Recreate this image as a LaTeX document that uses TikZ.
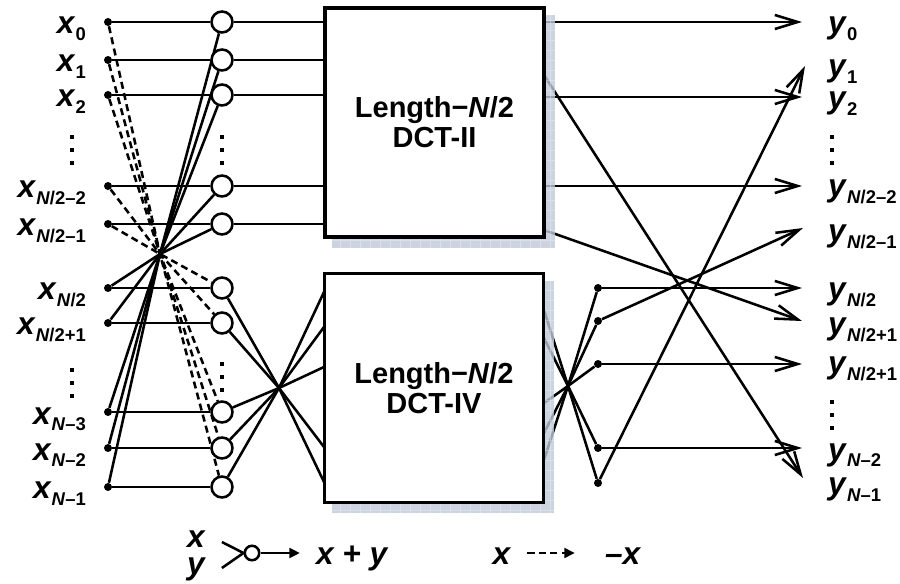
\documentclass[tikz,border=0pt]{standalone}
\usepackage{fontspec}
\setmainfont{Liberation Sans}
\usetikzlibrary{arrows.meta,calc}
\pgfdeclarelayer{shade}
\pgfdeclarelayer{front}
\pgfsetlayers{main,shade,front}
\definecolor{shadowgray}{RGB}{190,201,215}
\newcommand{\Nh}[1]{\textit{N}#1}
\newcommand{\sig}[2]{\textbf{\textit{#1}}\raisebox{-3.8pt}{\fontsize{10.5}{11}\selectfont\bfseries #2}}

\begin{document}
\begin{tikzpicture}[x=0.02cm,y=-0.02cm,
	wire/.style={line width=1.45pt},
	neg/.style={wire,dash pattern=on 4pt off 2.5pt},
	adder/.style={circle,draw,line width=1.45pt,fill=white,minimum size=0.42cm,inner sep=0pt},
	dot/.style={circle,fill,inner sep=0pt,minimum size=0.16cm},
	dct/.style={draw,fill=white,line width=1.8pt,minimum width=4.38cm,minimum height=4.58cm,inner sep=0pt,align=center,font=\fontsize{16.5}{17}\selectfont\bfseries},
	lbl/.style={font=\fontsize{18}{20}\selectfont,inner sep=1pt},
	outarrow/.style={wire,-{Straight Barb[length=13pt,width=8pt]}},
	]
	\useasboundingbox (0,0) rectangle (900,584);
	% blocks, inputs and adders
	\begin{pgfonlayer}{front}
		\node[dct] (dct2) at (434.5,122.5) {Length−\textit{N}/2\\DCT-II};
		\node[dct] (dct4) at (434,388) {Length−\textit{N}/2\\DCT-IV};
		\foreach \r [count=\i from 0] in {22,60,95,186,224,288,323,412,448,487} {
			\node[dot] (in\i) at (108,\r) {};
			\node[adder] (c\i) at (222,\r) {};
		}
	\end{pgfonlayer}
	\begin{pgfonlayer}{shade}
		\foreach \b in {dct2,dct4} {
			\fill[shadowgray,fill opacity=.8] ($(\b.north west)+(9,9)$) rectangle ($(\b.south east)+(9,9)$);
			\draw[white,opacity=.3,line width=.4pt,step=0.2cm] ($(\b.north west)+(9,9)$) grid ($(\b.south east)+(9,9)$);
		}
	\end{pgfonlayer}
	% labels
	\foreach \r/\s [count=\i from 0] in {22/0,60/1,95/2,186/\Nh{/2–2},224/\Nh{/2–1},288/\Nh{/2},323/\Nh{/2+1},412/\Nh{–3},448/\Nh{–2},487/\Nh{–1}}
		\node[lbl,anchor=base east] (lx\i) at (88,\r+12) {\sig{x}{\s}};
	\foreach \r/\s [count=\i from 0] in {22/0,65/1,97/2,185/\Nh{/2–2},230/\Nh{/2–1},288/\Nh{/2},323/\Nh{/2+1},362/\Nh{/2+1},448/\Nh{–2},483/\Nh{–1}}
		\node[lbl,anchor=base west] (ly\i) at (826,\r+12) {\sig{y}{\s}};
	\foreach \px/\py in {72/150,72/383,222/150,222/377,832/150,832/415}
		\foreach \k in {-1,0,1}
			\fill (\px-2.4,\py+\k*13-2.4) rectangle ++(4.8,4.8);
	% crossing points
	\coordinate (L) at (160,254);
	\coordinate (M) at (279,388);
	\coordinate (R) at (568,386);
	% input butterfly
	\foreach \i in {0,...,9}
		\draw[wire] (in\i) -- (c\i);
	\foreach \i [evaluate=\i as \j using int(9-\i)] in {5,...,9}
		\draw[wire] (in\i) -- (L) -- (c\j);
	\foreach \i [evaluate=\i as \j using int(9-\i)] in {0,...,4}
		\draw[neg] (in\i) -- (L) -- (c\j);
	\foreach \i in {0,...,4}
		\draw[wire] (c\i) -- (c\i -| dct2.west);
	\foreach \r [count=\i from 5] in {482,447,367,327,292} {
		\coordinate (v\i) at (324,\r);
		\draw[wire] (c\i) -- (M) -- (v\i);
	}
	% DCT-II outputs
	\foreach \r/\tx/\ty [count=\k] in {22/802/22,75/803/478,97/802/97,186/802/186,230/802/321} {
		\coordinate (u\k) at (544,\r);
		\coordinate (t\k) at (\tx,\ty);
		\draw[outarrow] (u\k) -- (t\k);
	}
	% DCT-IV outputs
	\foreach \r/\s [count=\k] in {310/483,338/448,403/364,433/321,460/288} {
		\coordinate (w\k) at (544,\r);
		\node[dot] (o\k) at (598,\s) {};
		\draw[wire] (w\k) -- (R) -- (o\k);
	}
	\foreach \k/\tx/\ty in {1/805/66,2/802/448,3/802/364,4/803/228,5/802/288} {
		\coordinate (s\k) at (\tx,\ty);
		\draw[outarrow] (o\k) -- (s\k);
	}
	% legend
	\node[lbl,align=center,font=\fontsize{18}{15}\selectfont\bfseries\itshape] (lgxy) at (196,556) {x\\y};
	\node[adder,minimum size=0.29cm] (lga) at (252,553) {};
	\node[lbl,anchor=base west] (lgs) at (314,564) {\textbf{\textit{x + y}}};
	\draw[wire] ($(lgxy.east)+(15,-14)$) -- (lga.west);
	\draw[wire] ($(lgxy.east)+(15,12)$) -- (lga.west);
	\draw[wire,-{Triangle[length=6pt,width=5.5pt]},shorten >=8pt] (lga) -- (lga -| lgs.west);
	\node[lbl,anchor=base] (lgn) at (502,564) {\textbf{\textit{x}}};
	\node[lbl,anchor=base west] (lgm) at (603,564) {\textbf{\textit{–x}}};
	\draw[neg,-{Triangle[length=6pt,width=5.5pt]},shorten <=8pt,shorten >=16pt] (lgn.east |- lga) -- (lgm.west |- lga);
\end{tikzpicture}
\end{document}
